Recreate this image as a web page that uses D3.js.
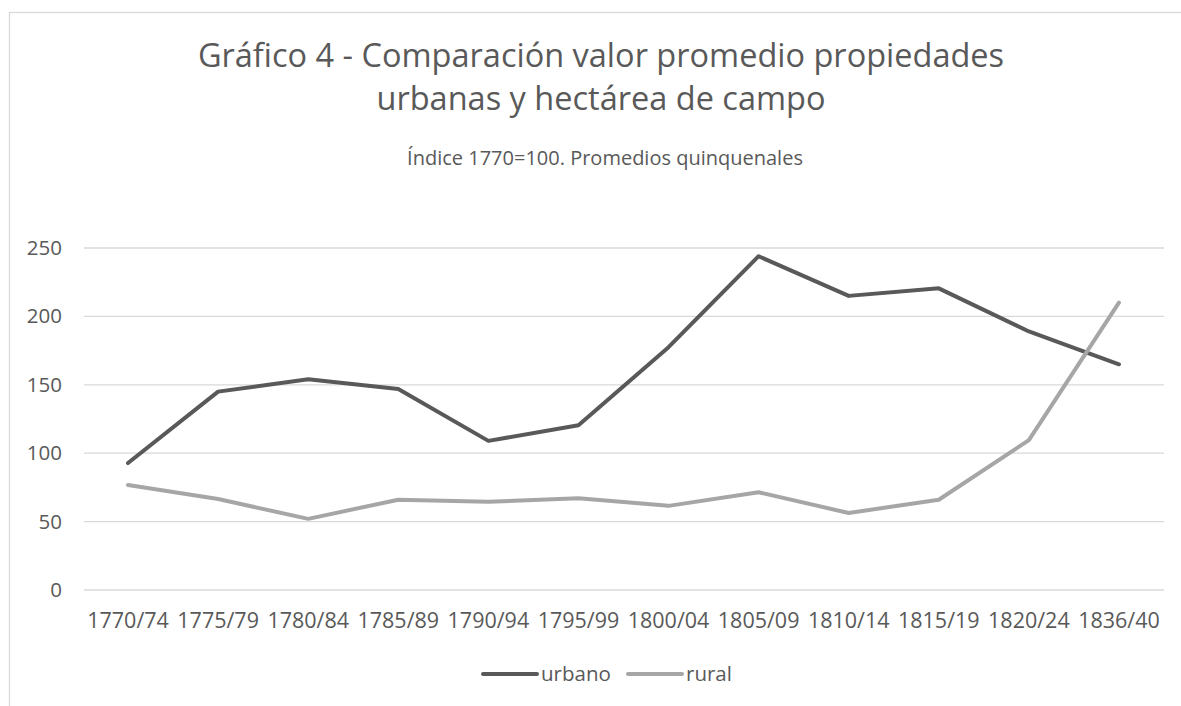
<!DOCTYPE html>
<html>
<head>
<meta charset="utf-8">
<script src="https://cdn.jsdelivr.net/npm/d3@7"></script>
<style>
  body { margin: 0; background: #fff; }
  svg text { font-family: "Open Sans", sans-serif; fill: #595959; }
</style>
</head>
<body>
<svg id="vis" width="1181" height="706"></svg>
<script>
const periods = ["1770/74", "1775/79", "1780/84", "1785/89", "1790/94", "1795/99",
                 "1800/04", "1805/09", "1810/14", "1815/19", "1820/24", "1836/40"];
const urbano = [92.8, 145, 154, 147, 109, 120.5, 177.5, 244, 215, 220.5, 189, 165];
const rural = [76.7, 66.5, 52, 66, 64.5, 67, 61.5, 71.5, 56.3, 66, 109.5, 210];
const yTicks = [0, 50, 100, 150, 200, 250];
const seriesNames = ["urbano", "rural"];
const seriesColors = ["#595959", "#a6a6a6"];

const width = 1181;
const height = 706;
const margin = {left: 83, right: 17, top: 248, bottom: 116};

const svg = d3.select("#vis");

// chart area frame (Excel style)
svg.append("rect")
    .attr("x", 9.5)
    .attr("y", 12.5)
    .attr("width", width + 20)
    .attr("height", height + 20)
    .attr("fill", "none")
    .attr("stroke", "#d9d9d9")
    .attr("stroke-width", 1.3);

const x = d3.scaleBand()
    .domain(periods)
    .range([margin.left, width - margin.right]);

const y = d3.scaleLinear()
    .domain([0, 250])
    .range([height - margin.bottom, margin.top]);

// gridlines
svg.append("g")
  .selectAll("line")
  .data(yTicks)
  .enter()
  .append("line")
    .attr("x1", margin.left + 1)
    .attr("x2", width - margin.right)
    .attr("y1", d => y(d))
    .attr("y2", d => y(d))
    .attr("stroke", "#d9d9d9")
    .attr("stroke-width", 1.3);

// y axis labels
const yAxis = svg.append("g")
    .attr("transform", `translate(${margin.left - 21},0)`)
    .call(d3.axisLeft(y).tickValues(yTicks).tickSize(0).tickPadding(0));
yAxis.select(".domain").remove();
yAxis.selectAll("text")
    .attr("font-size", 20.5)
    .attr("font-family", null)
    .attr("fill", "#595959");

// x axis labels
const xAxis = svg.append("g")
    .attr("transform", `translate(0,${height - margin.bottom})`)
    .call(d3.axisBottom(x).tickSize(0).tickPadding(23));
xAxis.select(".domain").remove();
xAxis.selectAll("text")
    .attr("font-size", 21.5)
    .attr("font-family", null)
    .attr("fill", "#595959");

// lines
const line = d3.line()
    .x((d, i) => x(periods[i]) + x.bandwidth() / 2)
    .y(d => y(d));

[urbano, rural].forEach((series, i) => {
  svg.append("path")
      .datum(series)
      .attr("d", line)
      .attr("fill", "none")
      .attr("stroke", seriesColors[i])
      .attr("stroke-width", 4)
      .attr("stroke-linecap", "round")
      .attr("stroke-linejoin", "round");
});

// titles
svg.append("text")
    .attr("x", 601).attr("y", 67)
    .attr("text-anchor", "middle")
    .attr("font-size", 32.5)
    .text("Gráfico 4 - Comparación valor promedio propiedades");
svg.append("text")
    .attr("x", 601).attr("y", 110)
    .attr("text-anchor", "middle")
    .attr("font-size", 32.5)
    .text("urbanas y hectárea de campo");
svg.append("text")
    .attr("x", 605).attr("y", 165)
    .attr("text-anchor", "middle")
    .attr("font-size", 20)
    .text("Índice 1770=100. Promedios quinquenales");

// legend
const legendX = [483, 628];
const legend = svg.append("g");
seriesNames.forEach((name, i) => {
  legend.append("line")
      .attr("x1", legendX[i]).attr("x2", legendX[i] + 54)
      .attr("y1", 674).attr("y2", 674)
      .attr("stroke", seriesColors[i])
      .attr("stroke-width", 4)
      .attr("stroke-linecap", "round");
  legend.append("text")
      .attr("x", legendX[i] + 58)
      .attr("y", 681)
      .attr("font-size", 20.5)
      .text(name);
});
</script>
</body>
</html>
